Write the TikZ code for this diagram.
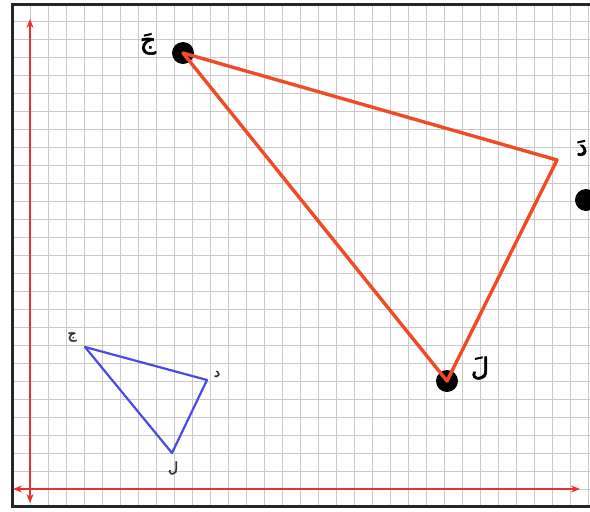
\documentclass[tikz,border=0pt]{standalone}
\usepackage{fontspec}
\newfontfamily\arabicfont[Script=Arabic,FakeBold=2.5]{DejaVu Sans}
\TeXXeTstate=1
\usetikzlibrary{arrows.meta}
\definecolor{axisred}{HTML}{E8302C}
\definecolor{imgred}{HTML}{F04A26}
\definecolor{objblue}{HTML}{4A4AE6}
\definecolor{gridgray}{HTML}{C9C9C9}

\begin{document}
\begin{tikzpicture}[x=1pt,y=-1pt,>={Stealth[length=9pt,width=7pt]},
  gridline/.style={draw=gridgray,line width=0.9pt},
  axis/.style={draw=axisred,line width=1.6pt,<->},
  image/.style={draw=imgred,line width=3.4pt,line join=round},
  object/.style={draw=objblue,line width=2.2pt,line join=round},
  dot/.style={circle,fill=black,inner sep=0pt,minimum size=22pt},
  biglabel/.style={font=\arabicfont\fontsize{25}{25}\selectfont,inner sep=1pt},
  smalllabel/.style={font=\arabicfont\fontsize{14}{14}\selectfont,inner sep=1pt,text=black!80}]
\clip (0,0) rectangle (590,512);
\fill[white] (0,0) rectangle (590,512);
% grid paper
\foreach \gx in {0,...,33}
  \draw[gridline] (12+18*\gx,3) -- (12+18*\gx,507);
\foreach \gy in {0,...,28}
  \draw[gridline] (12,3+18*\gy) -- (600,3+18*\gy);
\draw[black!85,line width=3pt] (12,4) rectangle (604,506);
% axes
\coordinate (ytop) at (30,19);
\coordinate (ybot) at (30,503);
\coordinate (xleft) at (13,489);
\coordinate (xright) at (580,489);
\draw[axis] (ybot) -- (ytop);
\draw[axis] (xleft) -- (xright);
% image triangle
\coordinate (jd) at (183,53);
\coordinate (dd) at (557,160);
\coordinate (ld) at (447,381);
\node[dot] (jdot) at (jd) {};
\node[dot] (ldot) at (ld) {};
\node[dot] (extra) at (586,200) {};
\draw[image] (jd) -- (dd) -- (ld) -- cycle;
\node[biglabel] (jdlabel) at (148,44) {\beginR جَ\endR};
\node[biglabel] (ddlabel) at (582,148) {\beginR دَ\endR};
\node[biglabel] (ldlabel) at (480,368) {\beginR لَ\endR};
% object triangle
\coordinate (j) at (85,347);
\coordinate (d) at (207,380);
\coordinate (l) at (172,453);
\draw[object] (j) -- (d) -- (l) -- cycle;
\node[smalllabel] (jlabel) at (72,337) {\beginR ج\endR};
\node[smalllabel] (dlabel) at (217,374) {\beginR د\endR};
\node[smalllabel] (llabel) at (173,468) {\beginR ل\endR};
\end{tikzpicture}
\end{document}
